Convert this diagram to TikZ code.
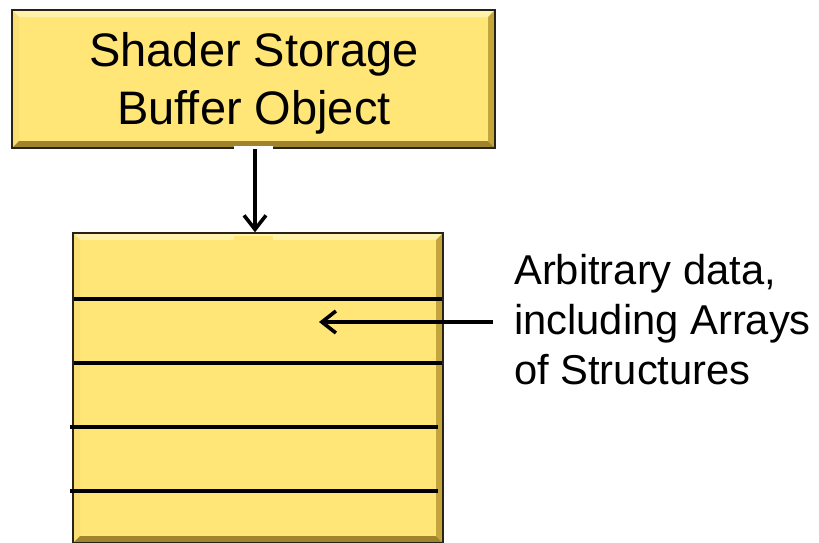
\documentclass[tikz,border=0pt]{standalone}
\usepackage{fontspec}
\setmainfont[Ligatures=NoCommon]{Liberation Sans}
\usetikzlibrary{arrows.meta}
\definecolor{face}{RGB}{255,230,118}
\definecolor{bevtop}{RGB}{255,242,170}
\definecolor{bevleft}{RGB}{248,222,115}
\definecolor{bevright}{RGB}{195,165,60}
\definecolor{bevbot}{RGB}{160,132,45}
\definecolor{edgecol}{RGB}{40,35,25}
\tikzset{
  bevelbox/.style={draw=edgecol, line width=1.5pt, fill=face, inner sep=0pt,
    path picture={
      \fill[bevtop] (path picture bounding box.north west) -- (path picture bounding box.north east)
        -- ([xshift=-7pt,yshift=-7pt]path picture bounding box.north east)
        -- ([xshift=7pt,yshift=-7pt]path picture bounding box.north west) -- cycle;
      \fill[bevleft] (path picture bounding box.north west) -- (path picture bounding box.south west)
        -- ([xshift=7pt,yshift=7pt]path picture bounding box.south west)
        -- ([xshift=7pt,yshift=-7pt]path picture bounding box.north west) -- cycle;
      \fill[bevright] (path picture bounding box.north east) -- (path picture bounding box.south east)
        -- ([xshift=-7pt,yshift=7pt]path picture bounding box.south east)
        -- ([xshift=-7pt,yshift=-7pt]path picture bounding box.north east) -- cycle;
      \fill[bevbot] (path picture bounding box.south west) -- (path picture bounding box.south east)
        -- ([xshift=-7pt,yshift=7pt]path picture bounding box.south east)
        -- ([xshift=7pt,yshift=7pt]path picture bounding box.south west) -- cycle;
    }},
  sepline/.style={line width=3.6pt, black},
  arr/.style={line width=3.2pt, black, -{Straight Barb[length=14pt,width=22pt,line width=3.6pt]}},
  bigtext/.style={font=\fontsize{47}{58}\selectfont, align=center, inner sep=0pt},
  sidetext/.style={font=\fontsize{41.7}{50}\selectfont, align=left, inner sep=0pt}
}
\begin{document}
\begin{tikzpicture}[x=1pt,y=-1pt]
\useasboundingbox[fill=white] (0,0) rectangle (819,542);
% top box
\node[bevelbox, minimum width=483pt, minimum height=138pt] (sbo) at (253.5,79) {};
\node[bigtext] (sbotext) at (254,83) {Shader Storage\\Buffer Object};
% buffer box
\node[bevelbox, minimum width=370pt, minimum height=310pt] (buf) at (258,388) {};
\fill[face] (234,236) rectangle (273,249);
\fill[white] (234,145.5) rectangle (273,149.5);
% separators
\draw[sepline] (74,299) -- (442,299);
\draw[sepline] (74,363) -- (442,363);
\draw[sepline] (70,427) -- (438,427);
\draw[sepline] (70,491) -- (438,491);
% arrows
\draw[arr] ([xshift=1.5pt]sbo.south) -- ([xshift=1.5pt]sbo.south |- buf.north);
\coordinate (tail) at (493,322);
\coordinate (tip) at (319,322);
\draw[arr] (tail) -- (tip);
% side label
\node[sidetext, anchor=north west] (label) at (514,254) {Arbitrary data,\\including Arrays\\of Structures};
\end{tikzpicture}
\end{document}
